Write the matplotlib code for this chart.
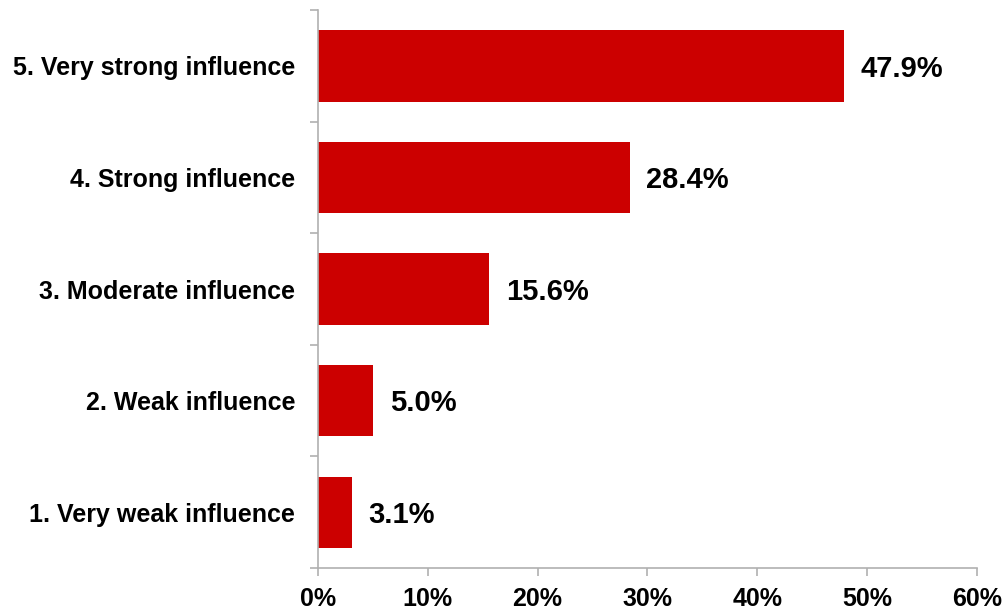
import matplotlib
matplotlib.use("Agg")
import matplotlib.pyplot as plt
from matplotlib.ticker import FuncFormatter

categories = [
    "1. Very weak influence",
    "2. Weak influence",
    "3. Moderate influence",
    "4. Strong influence",
    "5. Very strong influence",
]
values = [3.1, 5.0, 15.6, 28.4, 47.9]
x_ticks = [0, 10, 20, 30, 40, 50, 60]

plt.rcParams["font.family"] = ["Liberation Sans", "DejaVu Sans"]
plt.rcParams["font.weight"] = "bold"

fig = plt.figure(figsize=(10.02, 6.15), dpi=100)
ax = fig.add_axes([0.3174, 0.0764, 0.6574, 0.9073])

pos = list(range(len(categories)))
ax.barh(pos, values, height=0.64, color="#CC0000")

for p, v in zip(pos, values):
    ax.annotate(f"{v:.1f}%", xy=(v, p), xytext=(12, -2), textcoords="offset points",
                ha="left", va="center", fontsize=21, fontweight="bold", color="black")

ax.set_xlim(0, 60)
ax.set_ylim(-0.5, len(categories) - 0.5)
ax.set_xticks(x_ticks)
ax.xaxis.set_major_formatter(FuncFormatter(lambda x, _: f"{x:.0f}%"))
ax.set_yticks(pos)
ax.set_yticklabels(categories)
ax.set_yticks([p - 0.5 for p in pos] + [len(categories) - 0.5], minor=True)

spine_color = "#B0B0B0"
for side in ("top", "right"):
    ax.spines[side].set_visible(False)
for side in ("left", "bottom"):
    ax.spines[side].set_color(spine_color)
    ax.spines[side].set_linewidth(1.2)

ax.tick_params(axis="y", which="major", length=0, pad=16.5, labelsize=18)
ax.tick_params(axis="y", which="minor", length=6, width=1.2, color=spine_color, direction="out")
ax.tick_params(axis="x", which="major", length=6, width=1.2, color=spine_color, direction="out",
               pad=8, labelsize=18)
for lbl in ax.get_xticklabels() + ax.get_yticklabels():
    lbl.set_fontweight("bold")

fig.savefig("out.png", dpi=100)
